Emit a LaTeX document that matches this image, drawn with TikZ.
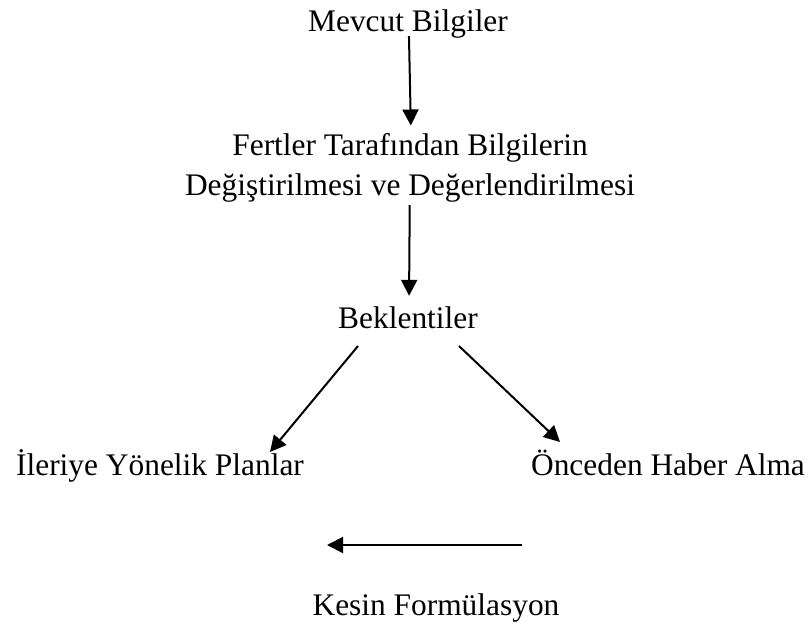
\documentclass[tikz,border=0pt]{standalone}
\usepackage{fontspec}
\setmainfont{Liberation Serif}
\usetikzlibrary{positioning,arrows.meta}

\begin{document}
\begin{tikzpicture}[
        x=0.5pt, y=-0.5pt,
        lbl/.style={inner sep=0pt, anchor=base, align=center,
            font=\fontsize{15.7}{20}\selectfont},
        line/.style={draw, -{Triangle[length=8pt, width=8pt]}, line width=1pt}
    ]
    \useasboundingbox (0,0) rectangle (810,633);

    \node [lbl] (mev) at (408,31) {Mevcut Bilgiler};
    \node [lbl] (fert) at (410,195) {Fertler Tarafından Bilgilerin\\Değiştirilmesi ve Değerlendirilmesi};
    \node [lbl] (bek) at (408,328) {Beklentiler};
    \node [lbl] (ileri) at (160,475) {İleriye Yönelik Planlar};
    \node [lbl] (once) at (668,475) {Önceden Haber Alma};
    \node [lbl] (kesin) at (436,615) {Kesin Formülasyon};

    \coordinate (fR) at (522,545);
    \coordinate (fL) at (327,545);

    \path [line, shorten <=-1pt, shorten >=3.5pt] ([xshift=0.5pt]mev.south) -- ([xshift=0.5pt]fert.north);
    \path [line, shorten <=1.5pt, shorten >=5pt] (fert) -- ([xshift=0.5pt]bek.north);
    \path [line] ([xshift=-25pt, yshift=-9pt]bek.base) -- ([xshift=55pt, yshift=11.5pt]ileri.base);
    \path [line] ([xshift=25.5pt, yshift=-9pt]bek.base) -- ([xshift=-54pt, yshift=16.5pt]once.base);
    \path [line] (fR) -- (fL);
\end{tikzpicture}
\end{document}
